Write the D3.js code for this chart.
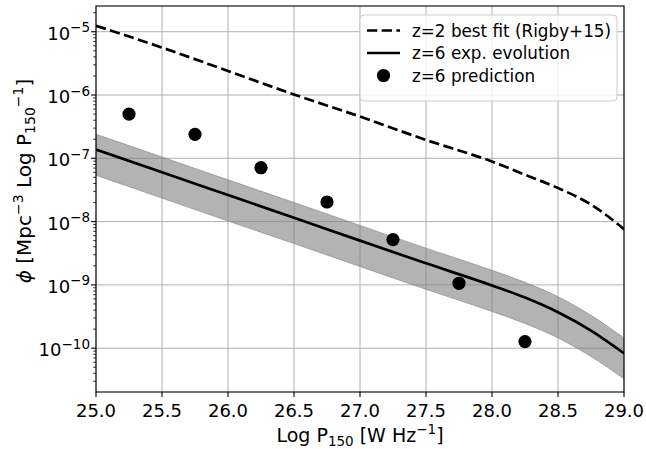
<!DOCTYPE html>
<html>
<head>
<meta charset="utf-8">
<script src="https://cdn.jsdelivr.net/npm/d3@7"></script>
<style>
  html, body { margin: 0; padding: 0; background: #fff; }
  svg { display: block; font-family: "DejaVu Sans", sans-serif; }
</style>
</head>
<body>
<svg id="chart" width="646" height="449"></svg>
<script>
// Log radio power grid (W/Hz) shared by the model curves
const logP = [25.0, 25.5, 26.0, 26.5, 27.0, 27.5, 28.0, 28.25, 28.5, 28.75, 29.0];

// z=6 exponential-evolution luminosity function and its uncertainty band
const phiExp      = [1.38e-7, 6.0e-8, 2.63e-8, 1.15e-8, 5.0e-9, 2.19e-9, 9.8e-10, 6.3e-10, 3.7e-10, 1.9e-10, 8.3e-11];
const phiExpUpper = [2.40e-7, 1.05e-7, 4.57e-8, 2.0e-8, 8.7e-9, 3.8e-9, 1.7e-9, 1.1e-9, 6.5e-10, 3.3e-10, 1.45e-10];
const phiExpLower = [5.4e-8, 2.35e-8, 1.02e-8, 4.5e-9, 1.95e-9, 8.5e-10, 3.8e-10, 2.45e-10, 1.45e-10, 7.4e-11, 3.3e-11];

// z=2 best fit (Rigby+15)
const logPRigby = [25.0, 25.5, 26.0, 26.5, 27.0, 27.5, 28.0, 28.25, 28.5, 28.75, 28.9, 29.0];
const phiRigby  = [1.245e-5, 5.62e-6, 2.40e-6, 1.02e-6, 4.57e-7, 1.95e-7, 8.9e-8, 5.5e-8, 3.39e-8, 1.86e-8, 1.12e-8, 7.6e-9];

// z=6 predicted space densities
const logPPred = [25.25, 25.75, 26.25, 26.75, 27.25, 27.75, 28.25];
const phiPred  = [5.0e-7, 2.39e-7, 7.1e-8, 2.04e-8, 5.2e-9, 1.06e-9, 1.27e-10];

// Axis ticks
const xTicks = [25.0, 25.5, 26.0, 26.5, 27.0, 27.5, 28.0, 28.5, 29.0];
const yExponents = [-10, -9, -8, -7, -6, -5];

const legendLabels = ["z=2 best fit (Rigby+15)", "z=6 exp. evolution", "z=6 prediction"];

const W = 646, H = 449;
const margin = { left: 96, right: 22, top: 6, bottom: 57 };
const x0 = margin.left, x1 = W - margin.right;
const y0 = margin.top, y1 = H - margin.bottom;
const SUP = 13.5;

const svg = d3.select("#chart");

const x = d3.scaleLinear().domain([25.0, 29.0]).range([x0, x1]);
const y = d3.scaleLog().domain([2.03e-11, 2.55e-5]).range([y1, y0]);

// clip region for the plotted data
svg.append("defs").append("clipPath").attr("id", "plotclip")
  .append("rect").attr("x", x0).attr("y", y0).attr("width", x1 - x0).attr("height", y1 - y0);

// grid
const grid = svg.append("g").attr("stroke", "#b0b0b0").attr("stroke-width", 1);
xTicks.forEach(t => {
  grid.append("line").attr("x1", x(t)).attr("x2", x(t)).attr("y1", y0).attr("y2", y1);
});
yExponents.forEach(e => {
  grid.append("line").attr("x1", x0).attr("x2", x1).attr("y1", y(Math.pow(10, e))).attr("y2", y(Math.pow(10, e)));
});

const plot = svg.append("g").attr("clip-path", "url(#plotclip)");

// uncertainty band
const band = d3.area()
  .x((d, i) => x(logP[i]))
  .y0((d, i) => y(phiExpLower[i]))
  .y1((d, i) => y(phiExpUpper[i]))
  .curve(d3.curveMonotoneX);
plot.append("path").datum(logP).attr("d", band)
  .attr("fill", "#808080").attr("fill-opacity", 0.6)
  .attr("stroke", "#808080").attr("stroke-opacity", 0.6).attr("stroke-width", 1);

// z=6 exp. evolution
const lineExp = d3.line().x((d, i) => x(logP[i])).y((d, i) => y(phiExp[i])).curve(d3.curveMonotoneX);
plot.append("path").datum(logP).attr("d", lineExp)
  .attr("fill", "none").attr("stroke", "#000").attr("stroke-width", 2.7);

// z=2 Rigby+15 fit
const lineRigby = d3.line().x((d, i) => x(logPRigby[i])).y((d, i) => y(phiRigby[i])).curve(d3.curveMonotoneX);
plot.append("path").datum(logPRigby).attr("d", lineRigby)
  .attr("fill", "none").attr("stroke", "#000").attr("stroke-width", 2.7)
  .attr("stroke-dasharray", "10.3,4.4");

// predictions
plot.selectAll("circle.pred").data(logPPred).enter().append("circle")
  .attr("class", "pred")
  .attr("cx", d => x(d)).attr("cy", (d, i) => y(phiPred[i])).attr("r", 6.6)
  .attr("fill", "#000");

// frame
svg.append("rect").attr("x", x0).attr("y", y0).attr("width", x1 - x0).attr("height", y1 - y0)
  .attr("fill", "none").attr("stroke", "#000").attr("stroke-width", 1.1);

// x ticks and labels
const xAxis = svg.append("g");
xTicks.forEach(t => {
  xAxis.append("line").attr("x1", x(t)).attr("x2", x(t)).attr("y1", y1).attr("y2", y1 + 4.9)
    .attr("stroke", "#000").attr("stroke-width", 1.1);
  xAxis.append("text").attr("x", x(t)).attr("y", y1 + 24.7)
    .attr("text-anchor", "middle").attr("font-size", 18).attr("fill", "#000")
    .text(t.toFixed(1));
});

// y ticks: majors at decades, minors at 2..9
const yAxis = svg.append("g");
const [dmin, dmax] = y.domain();
for (let e = -11; e <= -5; e++) {
  for (let k = 1; k <= 9; k++) {
    const v = k * Math.pow(10, e);
    if (v < dmin || v > dmax) continue;
    const len = k === 1 ? 4.9 : 2.8;
    yAxis.append("line").attr("x1", x0 - len).attr("x2", x0)
      .attr("y1", y(v)).attr("y2", y(v))
      .attr("stroke", "#000").attr("stroke-width", k === 1 ? 1.1 : 0.8);
  }
}
yExponents.forEach(e => {
  const t = yAxis.append("text").attr("x", x0 - 6).attr("y", y(Math.pow(10, e)) + 8)
    .attr("text-anchor", "end").attr("font-size", 18).attr("fill", "#000");
  t.append("tspan").text("10");
  t.append("tspan").attr("dy", -7.5).attr("font-size", SUP).text("\u2212" + Math.abs(e));
});

// axis titles
const xl = svg.append("text").attr("x", (x0 + x1) / 2).attr("y", 442)
  .attr("text-anchor", "middle").attr("font-size", 19).attr("fill", "#000");
xl.append("tspan").text("Log P");
xl.append("tspan").attr("dy", 4).attr("font-size", SUP).text("150");
xl.append("tspan").attr("dy", -4).text(" [W Hz");
xl.append("tspan").attr("dy", -8).attr("font-size", SUP).text("\u22121");
xl.append("tspan").attr("dy", 8).text("]");

const yl = svg.append("text").attr("transform", "translate(31, 181) rotate(-90)")
  .attr("text-anchor", "middle").attr("font-size", 20).attr("fill", "#000");
yl.append("tspan").attr("font-style", "italic").text("\u03d5");
yl.append("tspan").text(" [Mpc");
yl.append("tspan").attr("dy", -8).attr("font-size", 14).text("\u22123");
yl.append("tspan").attr("dy", 8).text(" Log P");
yl.append("tspan").attr("dy", 4).attr("font-size", 14).text("150");
yl.append("tspan").attr("dy", -12).attr("font-size", 14).text("\u22121");
yl.append("tspan").attr("dy", 8).text("]");

// legend
const lg = svg.append("g");
lg.append("rect").attr("x", 360).attr("y", 15).attr("width", 257).attr("height", 86)
  .attr("rx", 4).attr("fill", "#fff").attr("fill-opacity", 0.8)
  .attr("stroke", "#cccccc").attr("stroke-width", 1);
const rowY = [30.5, 53, 75.5];
lg.append("line").attr("x1", 367).attr("x2", 400).attr("y1", rowY[0]).attr("y2", rowY[0])
  .attr("stroke", "#000").attr("stroke-width", 2.7).attr("stroke-dasharray", "10.3,4.4");
lg.append("line").attr("x1", 367).attr("x2", 400).attr("y1", rowY[1]).attr("y2", rowY[1])
  .attr("stroke", "#000").attr("stroke-width", 2.7);
lg.append("circle").attr("cx", 383.5).attr("cy", rowY[2]).attr("r", 6.6).attr("fill", "#000");
legendLabels.forEach((s, i) => {
  lg.append("text").attr("x", 412).attr("y", rowY[i] + 6)
    .attr("font-size", 16.8).attr("fill", "#000").text(s);
});
</script>
</body>
</html>
